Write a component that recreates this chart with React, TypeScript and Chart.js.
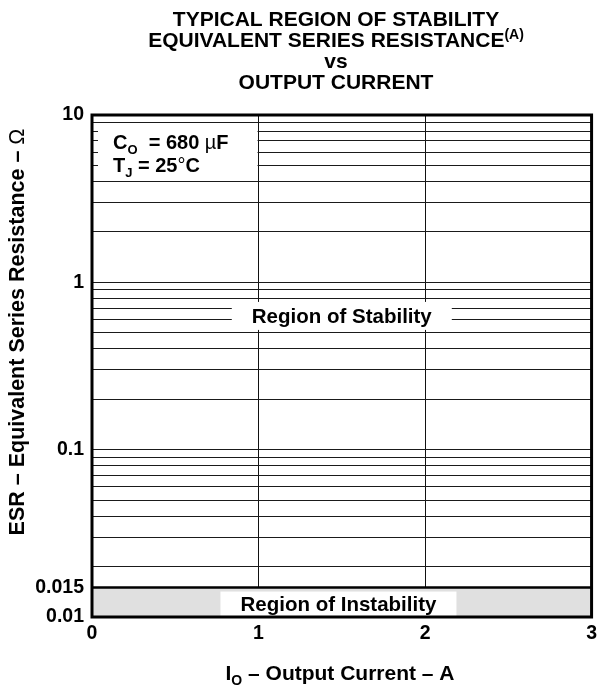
import React, { useEffect, useRef } from 'react';
import { Chart, registerables } from 'chart.js';

Chart.register(...registerables);

// ---- data ----
const titleLines = ['TYPICAL REGION OF STABILITY', 'EQUIVALENT SERIES RESISTANCE', 'vs', 'OUTPUT CURRENT'];
const titleNote = '(A)';
const xTickValues = [0, 1, 2, 3];
const xRange = [0, 3];
const yRange = [0.01, 10];
const yGridValues = [
  0.01, 0.015, 0.02, 0.03, 0.04, 0.05, 0.06, 0.07, 0.08, 0.09,
  0.1, 0.2, 0.3, 0.4, 0.5, 0.6, 0.7, 0.8, 0.9,
  1, 2, 3, 4, 5, 6, 7, 8, 9, 10,
];
const yLabeledValues = [0.01, 0.015, 0.1, 1, 10];
const yTickLabels = ['0.01', '0.015', '0.1', '1', '10'];
const thresholdCurrents = [0, 3];
const thresholdEsr = [0.015, 0.015];
const regionLabels = ['Region of Stability', 'Region of Instability'];

const FAM = "'Liberation Sans', Arial, Helvetica, sans-serif";
const B20 = `bold 20px ${FAM}`;
const B21 = `bold 21px ${FAM}`;
const B13 = `bold 13px ${FAM}`;
const B14 = `bold 14px ${FAM}`;
const N20 = `20px ${FAM}`;
const N21 = `21px ${FAM}`;

type Run = { t: string; f: string; dy?: number };

function runsWidth(ctx: CanvasRenderingContext2D, runs: Run[]) {
  let w = 0;
  for (const r of runs) {
    ctx.font = r.f;
    w += ctx.measureText(r.t).width;
  }
  return w;
}

function drawRuns(ctx: CanvasRenderingContext2D, runs: Run[], x: number, y: number, align: 'left' | 'center') {
  const w = runsWidth(ctx, runs);
  let cx = align === 'center' ? x - w / 2 : x;
  ctx.textAlign = 'left';
  for (const r of runs) {
    ctx.font = r.f;
    ctx.fillText(r.t, cx, y + (r.dy || 0));
    cx += ctx.measureText(r.t).width;
  }
}

const annotate = {
  id: 'annotate',
  afterDatasetsDraw(chart: any) {
    const { ctx, chartArea: ca, scales } = chart;
    const xs = scales.x;
    const ys = scales.y;
    ctx.save();
    ctx.fillStyle = '#000';
    ctx.textBaseline = 'alphabetic';

    // conditions box
    const boxL = ca.left + 6;
    const boxR = xs.getPixelForValue(1) - 1;
    const boxT = ys.getPixelForValue(9) + 2;
    const boxB = ys.getPixelForValue(4) - 2;
    ctx.fillStyle = '#fff';
    ctx.fillRect(boxL, boxT, boxR - boxL, boxB - boxT);
    ctx.fillStyle = '#000';
    drawRuns(ctx, [
      { t: 'C', f: B20 },
      { t: 'O', f: B13, dy: 5 },
      { t: '  = 680 ', f: B20 },
      { t: 'µ', f: N20 },
      { t: 'F', f: B20 },
    ], 113, 149, 'left');
    drawRuns(ctx, [
      { t: 'T', f: B20 },
      { t: 'J', f: B13, dy: 5 },
      { t: ' = 25', f: B20 },
      { t: '°', f: N20 },
      { t: 'C', f: B20 },
    ], 113, 172, 'left');

    // Region of Stability
    const sx = xs.getPixelForValue(1.5);
    const sy = ys.getPixelForValue(0.63);
    ctx.fillStyle = '#fff';
    ctx.fillRect(sx - 110, sy - 14, 220, 28);
    ctx.fillStyle = '#000';
    ctx.font = `bold 20.5px ${FAM}`;
    ctx.textAlign = 'center';
    ctx.textBaseline = 'middle';
    ctx.fillText(regionLabels[0], sx, sy + 1);

    // Region of Instability
    const ix = xs.getPixelForValue(1.48);
    const iT = ys.getPixelForValue(0.015) + 4;
    const iB = ca.bottom;
    ctx.fillStyle = '#fff';
    ctx.fillRect(ix - 118, iT, 236, iB - iT);
    ctx.fillStyle = '#000';
    ctx.fillText(regionLabels[1], ix, (iT + iB) / 2 + 1);

    // frame
    ctx.strokeStyle = '#000';
    ctx.lineWidth = 3;
    ctx.strokeRect(ca.left, ca.top, ca.right - ca.left, ca.bottom - ca.top);
    ctx.restore();
  },
  afterDraw(chart: any) {
    const { ctx } = chart;
    ctx.save();
    ctx.fillStyle = '#000';
    ctx.textBaseline = 'alphabetic';
    const cx = 336;
    drawRuns(ctx, [{ t: titleLines[0], f: B21 }], cx, 26, 'center');
    drawRuns(ctx, [{ t: titleLines[1], f: B21 }, { t: titleNote, f: B14, dy: -8 }], cx, 47, 'center');
    drawRuns(ctx, [{ t: titleLines[2], f: B21 }], cx, 68, 'center');
    drawRuns(ctx, [{ t: titleLines[3], f: B21 }], cx, 89, 'center');

    // x title
    drawRuns(ctx, [
      { t: 'I', f: B21 },
      { t: 'O', f: B14, dy: 5 },
      { t: ' – Output Current – A', f: B21 },
    ], 340, 680, 'center');

    // y title
    ctx.translate(18, 332);
    ctx.rotate(-Math.PI / 2);
    ctx.textBaseline = 'middle';
    drawRuns(ctx, [
      { t: 'ESR – Equivalent Series Resistance – ', f: `bold 21.5px ${FAM}` },
      { t: 'Ω', f: `21.5px ${FAM}` },
    ], 0, 0, 'center');
    ctx.restore();
  },
};

export default function App() {
  const ref = useRef<HTMLCanvasElement>(null);
  useEffect(() => {
    if (!ref.current) return;
    const chart = new Chart(ref.current, {
      type: 'scatter',
      data: {
        datasets: [
          {
            label: 'Stability limit',
            data: thresholdCurrents.map((x, i) => ({ x, y: thresholdEsr[i] })),
            showLine: true,
            borderColor: '#000',
            borderWidth: 2.5,
            backgroundColor: '#e0e0e0',
            fill: 'start',
            pointRadius: 0,
          } as any,
        ],
      },
      options: {
        animation: false,
        responsive: true,
        maintainAspectRatio: false,
        layout: { padding: { top: 115, right: 9, left: 0, bottom: 0 } },
        plugins: {
          legend: { display: false },
          tooltip: { enabled: false },
          title: { display: false },
        },
        scales: {
          x: {
            type: 'linear',
            min: xRange[0],
            max: xRange[1],
            afterBuildTicks: (s: any) => {
              s.ticks = xTickValues.map((v) => ({ value: v }));
            },
            afterFit: (s: any) => {
              s.height = 70;
            },
            ticks: {
              color: '#000',
              font: { family: FAM, size: 19.5, weight: 'bold' },
              padding: 5,
              autoSkip: false,
              maxRotation: 0,
              callback: (v: any) => String(v),
            },
            grid: { color: '#111', lineWidth: 1, drawTicks: false },
            border: { display: false },
          },
          y: {
            type: 'logarithmic',
            min: yRange[0],
            max: yRange[1],
            afterBuildTicks: (s: any) => {
              s.ticks = yGridValues.map((v) => ({ value: v }));
            },
            afterFit: (s: any) => {
              s.width = 92;
            },
            ticks: {
              color: '#000',
              font: { family: FAM, size: 19.5, weight: 'bold' },
              padding: 8,
              autoSkip: false,
              callback: (v: any) => {
                const i = yLabeledValues.indexOf(v);
                return i >= 0 ? yTickLabels[i] : '';
              },
            },
            grid: {
              color: (c: any) => (c.tick && c.tick.value === 0.015 ? 'rgba(0,0,0,0)' : '#1a1a1a'),
              lineWidth: 1,
              drawTicks: false,
            },
            border: { display: false },
          },
        },
      } as any,
      plugins: [annotate],
    });
    return () => chart.destroy();
  }, []);
  return (
    <div style={{ position: 'absolute', left: 0, top: 0, width: 602, height: 687, background: '#fff' }}>
      <canvas ref={ref} />
    </div>
  );
}
